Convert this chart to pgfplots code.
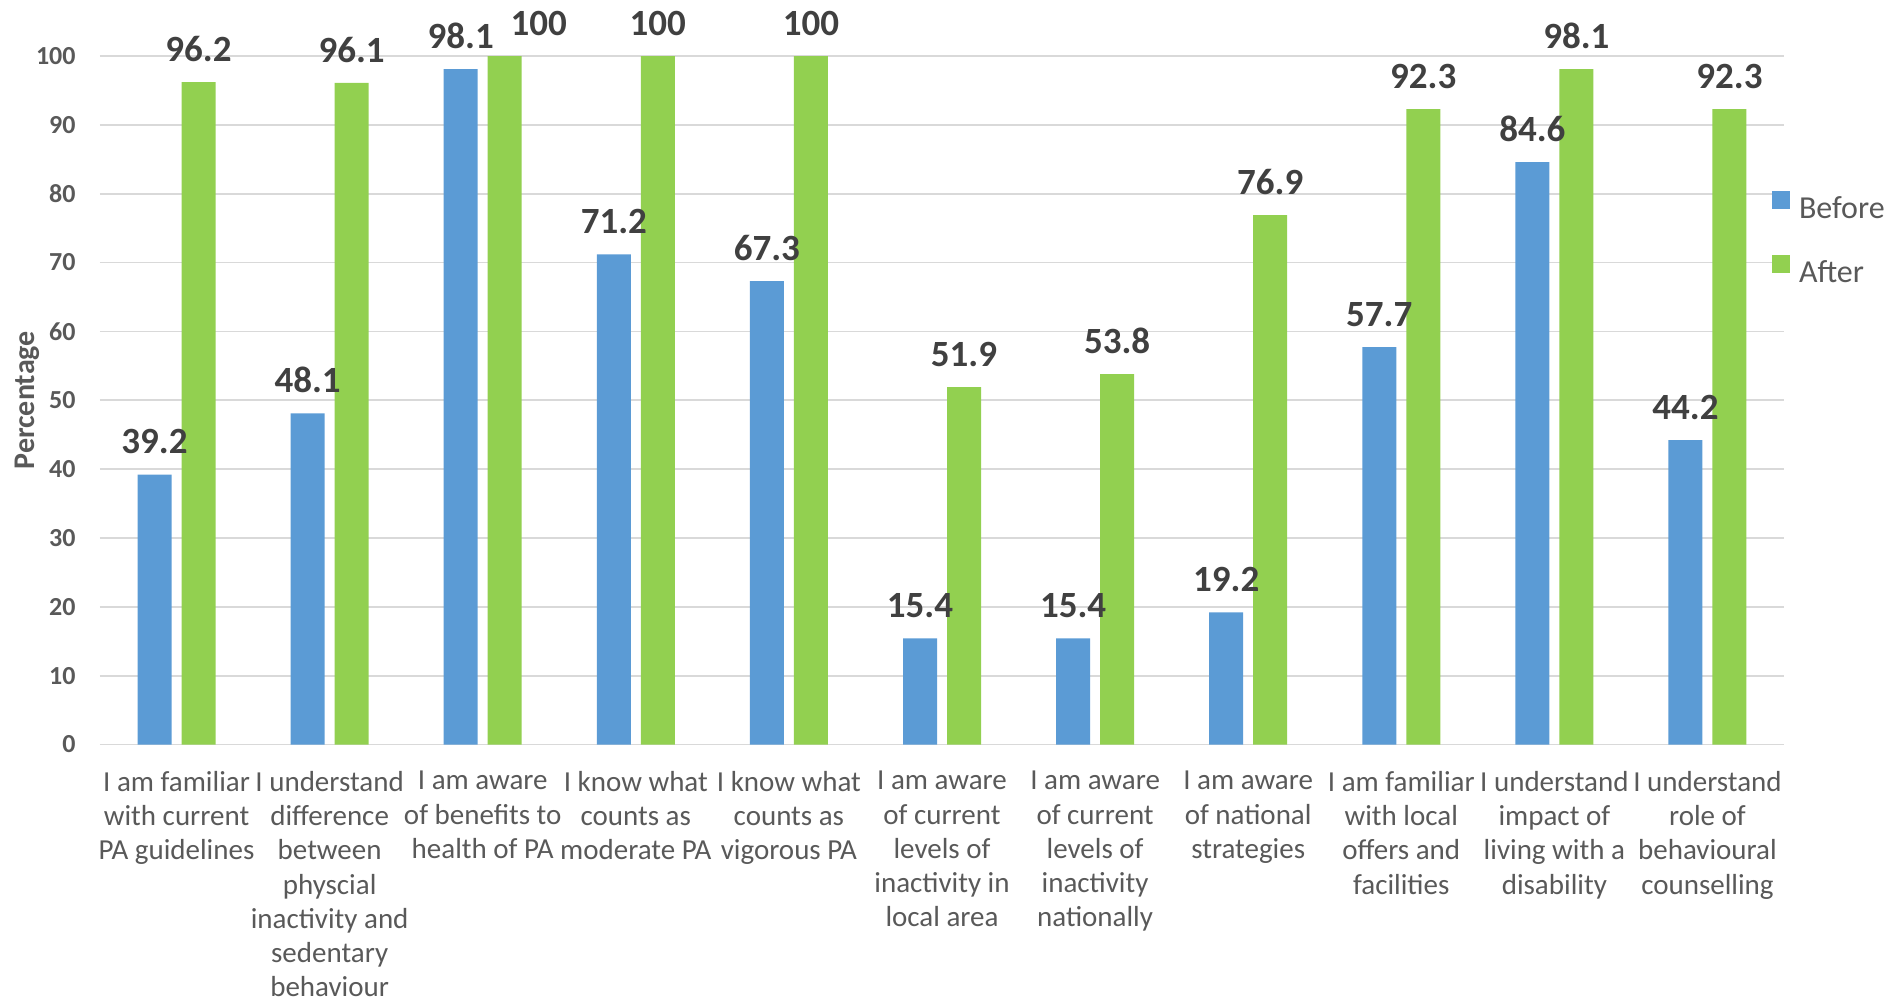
\documentclass[border=0pt]{standalone}
\usepackage{fontspec}
\setmainfont{Carlito}
\usepackage{pgfplots}
\usepackage{pgfplotstable}
\pgfplotsset{compat=1.18}

\definecolor{before}{HTML}{5B9BD5}
\definecolor{after}{HTML}{92D050}
\definecolor{gridc}{HTML}{D9D9D9}
\definecolor{txt}{HTML}{595959}
\definecolor{vals}{HTML}{404040}

% Percentages before and after; dx nudges a value label sideways (pt)
\pgfplotstableread{
x y
0 39.2
1 48.1
2 98.1
3 71.2
4 67.3
5 15.4
6 15.4
7 19.2
8 57.7
9 84.6
10 44.2
}\beforedata

\pgfplotstableread{
x y dx
0 96.2 0
1 96.1 0
2 100 17
3 100 0
4 100 0
5 51.9 0
6 53.8 0
7 76.9 0
8 92.3 0
9 98.1 0
10 92.3 0
}\afterdata

\begin{document}
\begin{tikzpicture}
\useasboundingbox (-50pt,-126.25pt) rectangle (898pt,372.25pt);
\begin{axis}[
  at={(0pt,0pt)}, anchor=south west,
  scale only axis, width=842pt, height=344.25pt,
  xmin=-0.5, xmax=10.5, ymin=0, ymax=100,
  ybar=5pt, bar width=17pt,
  axis line style={draw=none},
  major tick length=0pt,
  ytick={0,10,...,100},
  xtick={0,1,...,10},
  xticklabels={
    {I am familiar\\with current\\PA guidelines},
    {I understand\\difference\\between\\physcial\\inactivity and\\sedentary\\behaviour},
    {I am aware\\of benefits to\\health of PA},
    {I know what\\counts as\\moderate PA},
    {I know what\\counts as\\vigorous PA},
    {I am aware\\of current\\levels of\\inactivity in\\local area},
    {I am aware\\of current\\levels of\\inactivity\\nationally},
    {I am aware\\of national\\strategies},
    {I am familiar\\with local\\offers and\\facilities},
    {I understand\\impact of\\living with a\\disability},
    {I understand\\role of\\behavioural\\counselling}},
  ymajorgrids, grid style={gridc, line width=0.9pt},
  /pgf/number format/assume math mode=true,
  yticklabel style={font=\fontsize{13}{15}\selectfont\bfseries, text=txt,
    anchor=east, inner sep=0pt, xshift=-12pt},
  xticklabel style={font=\fontsize{14.5}{17.1}\selectfont, text=txt,
    align=center, anchor=north, inner sep=0pt, yshift=-13.2pt,
    execute at begin node={\rule{0pt}{11pt}}},
  ylabel={Percentage},
  every axis y label/.style={at={(axis description cs:-0.04305,0.5)},
    anchor=center, rotate=90, inner sep=0pt,
    font=\fontsize{15}{17}\selectfont\bfseries, text=txt},
  nodes near coords,
  every node near coord/.append style={font=\fontsize{18.5}{20}\selectfont\bfseries,
    text=vals, inner sep=0pt, anchor=south, yshift=10pt},
  legend style={draw=none, fill=none,
    at={(axis description cs:0.99287,0.8035)}, anchor=north west,
    inner sep=0pt, outer sep=0pt, row sep=16.5pt,
    nodes={inner sep=0pt, font=\fontsize{16}{18}\selectfont, text=txt},
    /tikz/column 1/.style={column sep=4.5pt}},
  legend cell align=left,
  legend image code/.code={\draw[#1, draw=none] (0pt,0pt) rectangle (9pt,9pt);},
  clip=false,
]
\addplot[fill=before, draw=none] table[x=x, y=y] {\beforedata};
\addplot[fill=after, draw=none,
  visualization depends on={\thisrow{dx} \as \labeldx},
  every node near coord/.append style={xshift=\labeldx pt}]
  table[x=x, y=y] {\afterdata};
\legend{Before, After}
\end{axis}
\end{tikzpicture}
\end{document}
